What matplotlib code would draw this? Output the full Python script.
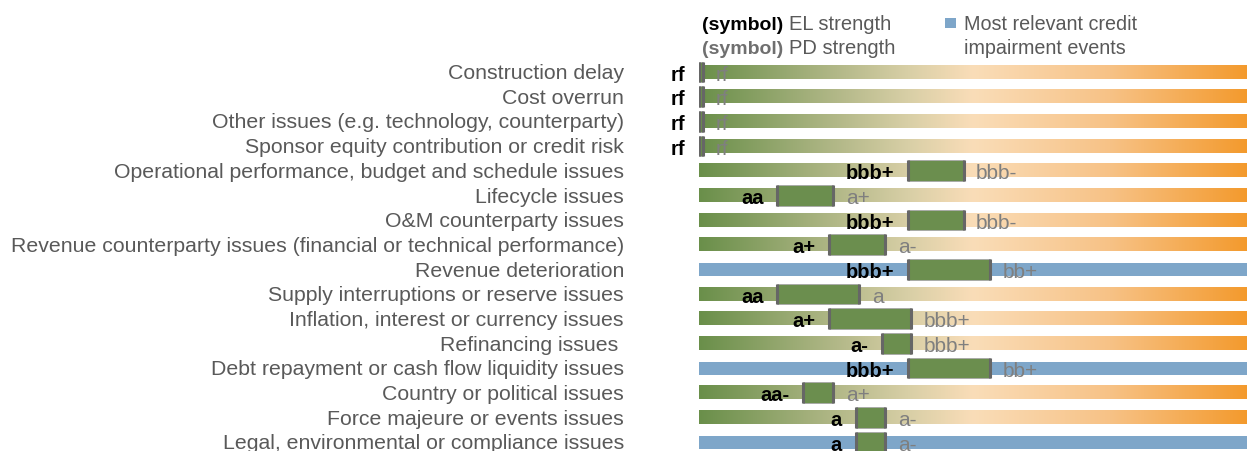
import matplotlib
matplotlib.use("Agg")
import matplotlib.pyplot as plt
import numpy as np
from matplotlib.colors import LinearSegmentedColormap
from matplotlib.patches import Rectangle

plt.rcParams["font.family"] = ["Liberation Sans", "DejaVu Sans"]

# rating scale, strongest on the left
SCALE = ["rf", "aaa", "aa+", "aa", "aa-", "a+", "a", "a-", "bbb+", "bbb", "bbb-",
         "bb+", "bb", "bb-", "b+", "b", "b-", "ccc+", "ccc", "ccc-", "cc", "c"]

events = [
    "Construction delay",
    "Cost overrun",
    "Other issues (e.g. technology, counterparty)",
    "Sponsor equity contribution or credit risk",
    "Operational performance, budget and schedule issues",
    "Lifecycle issues",
    "O&M counterparty issues",
    "Revenue counterparty issues (financial or technical performance)",
    "Revenue deterioration",
    "Supply interruptions or reserve issues",
    "Inflation, interest or currency issues",
    "Refinancing issues ",
    "Debt repayment or cash flow liquidity issues",
    "Country or political issues",
    "Force majeure or events issues",
    "Legal, environmental or compliance issues",
]
el_strength = ["rf", "rf", "rf", "rf", "bbb+", "aa", "bbb+", "a+", "bbb+", "aa",
               "a+", "a-", "bbb+", "aa-", "a", "a"]
pd_strength = ["rf", "rf", "rf", "rf", "bbb-", "a+", "bbb-", "a-", "bb+", "a",
               "bbb+", "bbb+", "bb+", "a+", "a-", "a-"]
most_relevant = [False, False, False, False, False, False, False, False, True,
                 False, False, False, True, False, False, True]

GREEN = "#6B8E4E"
BLUE = "#7EA6C9"
LABEL_GREY = "#595959"
PD_GREY = "#7F7F7F"

grad_cmap = LinearSegmentedColormap.from_list("strength", [
    (0.00, "#6A8F4A"),
    (0.25, "#B2B888"),
    (0.38, "#D8CFA6"),
    (0.50, "#FADDB8"),
    (0.75, "#F7C286"),
    (1.00, "#F39A2D"),
])

W, H = 1247, 452
fig = plt.figure(figsize=(W / 100, H / 100), dpi=100)
ax = fig.add_axes([699 / W, 0, 1 - 699 / W, 1])
x_max = len(SCALE) - 1
ax.set_xlim(0, x_max)
ax.set_ylim(15.36, -2.96)
ax.axis("off")

bar_h = 0.53
box_h = 0.84
grad = np.linspace(0, 1, 256).reshape(1, -1)

for i, name in enumerate(events):
    # background strip
    if most_relevant[i]:
        ax.add_patch(Rectangle((0, i - bar_h / 2), x_max, bar_h, facecolor=BLUE,
                               edgecolor="none", zorder=1))
    else:
        ax.imshow(grad, cmap=grad_cmap, aspect="auto", interpolation="bilinear",
                  extent=(0, x_max, i + bar_h / 2, i - bar_h / 2), zorder=1)

    x0 = SCALE.index(el_strength[i])
    x1 = SCALE.index(pd_strength[i]) + 0.14
    ax.add_patch(Rectangle((x0, i - box_h / 2), x1 - x0, box_h, facecolor=GREEN,
                           edgecolor="#A8A8A8", lw=0.6, zorder=2))
    ax.vlines([x0, x1], i - box_h / 2, i + box_h / 2, color="#666666", lw=2.2, zorder=3)

    ax.annotate(el_strength[i], (x0, i), xytext=(-10, 0), textcoords="offset points",
                ha="right", va="center_baseline", fontsize=14.5, fontweight="bold",
                color="black", zorder=4)
    ax.annotate(pd_strength[i], (x1, i), xytext=(9, 0), textcoords="offset points",
                ha="left", va="center_baseline", fontsize=15, color=PD_GREY, zorder=4)
    ax.annotate(name, (0, i), xytext=(-54, 1), textcoords="offset points",
                ha="right", va="center_baseline", fontsize=15.3, color=LABEL_GREY,
                annotation_clip=False)

# legend block
fig.text(702 / W, 1 - 23 / H, "(symbol)", fontsize=14, fontweight="bold",
         color="black", va="center_baseline")
fig.text(789 / W, 1 - 23 / H, "EL strength", fontsize=14.5, color=LABEL_GREY,
         va="center_baseline")
fig.text(702 / W, 1 - 47 / H, "(symbol)", fontsize=14, fontweight="bold",
         color="#6F6F6F", va="center_baseline")
fig.text(789 / W, 1 - 47 / H, "PD strength", fontsize=14.5, color=LABEL_GREY,
         va="center_baseline")
fig.patches.append(Rectangle((945 / W, 1 - 29 / H), 11 / W, 10 / H, facecolor=BLUE,
                             edgecolor="none", transform=fig.transFigure, figure=fig))
fig.text(964 / W, 1 - 23 / H, "Most relevant credit", fontsize=14.2, color=LABEL_GREY,
         va="center_baseline")
fig.text(964 / W, 1 - 47 / H, "impairment events", fontsize=14.2, color=LABEL_GREY,
         va="center_baseline")

fig.savefig("out.png", dpi=100)
